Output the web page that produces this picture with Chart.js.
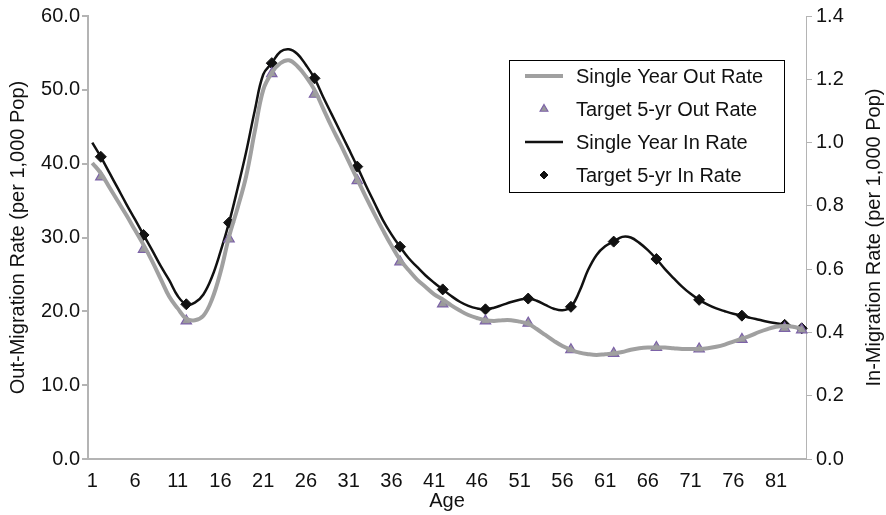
<!DOCTYPE html>
<html>
<head>
<meta charset="utf-8">
<title>Migration rates by age</title>
<script src="https://cdn.jsdelivr.net/npm/chart.js@4.4.1/dist/chart.umd.min.js"></script>
<style>
  html, body { margin: 0; padding: 0; background: #fff; }
  #wrap { width: 886px; height: 515px; }
</style>
</head>
<body>
<div id="wrap"><canvas id="rateCanvas" width="886" height="515"></canvas></div>
<script>
// single years of age on the category axis
const ages = [
  1, 2, 3, 4, 5, 6, 7, 8, 9, 10, 11, 12, 13, 14, 15, 16, 17, 18, 19, 20,
  21, 22, 23, 24, 25, 26, 27, 28, 29, 30, 31, 32, 33, 34, 35, 36, 37, 38, 39, 40,
  41, 42, 43, 44, 45, 46, 47, 48, 49, 50, 51, 52, 53, 54, 55, 56, 57, 58, 59, 60,
  61, 62, 63, 64, 65, 66, 67, 68, 69, 70, 71, 72, 73, 74, 75, 76, 77, 78, 79, 80,
  81, 82, 83, 84
];

// out-migration per 1,000 (left axis)
const singleOut = [
  40.1, 38.7, 36.8, 34.9, 33.0, 31.0, 29.0, 26.8, 24.4, 22.0,
  20.4, 19.0, 18.8, 19.4, 21.6, 25.3, 30.1, 34.0, 38.3, 44.3,
  50.0, 52.3, 53.6, 54.0, 53.2, 51.8, 50.0, 47.5, 45.0, 42.7,
  40.3, 37.9, 35.5, 33.2, 31.0, 28.9, 27.0, 25.6, 24.3, 23.3,
  22.3, 21.6, 20.8, 20.1, 19.5, 19.1, 18.8, 18.7, 18.8, 18.8,
  18.6, 18.3, 17.6, 16.8, 16.0, 15.3, 14.8, 14.4, 14.2, 14.1,
  14.2, 14.3, 14.5, 14.8, 15.0, 15.1, 15.1, 15.1, 15.0, 14.9,
  14.9, 14.9, 15.0, 15.2, 15.5, 15.9, 16.3, 16.7, 17.2, 17.6,
  17.9, 18.0, 17.9, 17.6
];

// in-migration per 1,000 (right axis)
const singleIn = [
  1.000, 0.955, 0.905, 0.855, 0.805, 0.757, 0.708, 0.660, 0.610, 0.565,
  0.515, 0.489, 0.494, 0.520, 0.575, 0.655, 0.747, 0.855, 0.970, 1.100,
  1.215, 1.251, 1.287, 1.295, 1.280, 1.245, 1.203, 1.145, 1.090, 1.035,
  0.980, 0.924, 0.865, 0.810, 0.755, 0.710, 0.671, 0.635, 0.607, 0.580,
  0.557, 0.536, 0.515, 0.497, 0.484, 0.476, 0.473, 0.478, 0.487, 0.496,
  0.503, 0.507, 0.500, 0.487, 0.475, 0.470, 0.481, 0.530, 0.597, 0.645,
  0.672, 0.687, 0.702, 0.700, 0.683, 0.660, 0.632, 0.600, 0.572, 0.545,
  0.522, 0.503, 0.488, 0.476, 0.467, 0.459, 0.453, 0.446, 0.440, 0.434,
  0.429, 0.424, 0.418, 0.413
];

// 5-year targets, placed at the group's age
const targetAges = [2, 7, 12, 17, 22, 27, 32, 37, 42, 47, 52, 57, 62, 67, 72, 77, 82, 84];
const targetOut = [38.2, 28.4, 18.7, 29.8, 52.2, 49.4, 37.7, 26.7, 21.0, 18.7, 18.4, 14.8, 14.3, 15.1, 14.9, 16.2, 17.7, 17.5];
const targetIn = [0.955, 0.708, 0.489, 0.747, 1.251, 1.203, 0.924, 0.671, 0.536, 0.473, 0.507, 0.481, 0.687, 0.632, 0.503, 0.453, 0.424, 0.413];

const FONT = "'Liberation Sans', Arial, Helvetica, sans-serif";
const AXIS_GREY = "#b4b4b4";
const RIGHT_TITLE = "In-Migration Rate (per 1,000 Pop)";

// spread the target values over the age categories (null where there is no target)
const onAges = (vals) => ages.map((a) => {
  const k = targetAges.indexOf(a);
  return k < 0 ? null : vals[k];
});

// legend drawn as a boxed panel inside the plot area,
// plus the right-hand axis title reading bottom to top
const boxLegend = {
  id: "boxLegend",
  afterDraw(chart) {
    const ctx = chart.ctx;
    const x0 = 509, y0 = 60, w = 275, h = 132;
    ctx.save();
    ctx.fillStyle = "#fff";
    ctx.fillRect(x0, y0, w, h);
    ctx.strokeStyle = "#000";
    ctx.lineWidth = 1;
    ctx.strokeRect(x0 + 0.5, y0 + 0.5, w, h);
    ctx.font = "20px " + FONT;
    ctx.textBaseline = "middle";
    chart.data.datasets.forEach((ds, i) => {
      const y = y0 + 16 + i * 33;
      if (ds.showLine === false) {
        ctx.fillStyle = ds.backgroundColor;
        ctx.strokeStyle = ds.borderColor;
        ctx.lineWidth = ds.borderWidth;
        Chart.helpers.drawPoint(ctx, {
          pointStyle: ds.pointStyle,
          radius: ds.pointRadius - 1.5,
          borderWidth: ds.borderWidth
        }, 544, y);
      } else {
        ctx.strokeStyle = ds.borderColor;
        ctx.lineWidth = ds.borderWidth;
        ctx.beginPath();
        ctx.moveTo(525, y);
        ctx.lineTo(563, y);
        ctx.stroke();
      }
      ctx.fillStyle = "#111";
      ctx.fillText(ds.label, 576, y + 1);
    });

    const area = chart.chartArea;
    ctx.translate(874, (area.top + area.bottom) / 2);
    ctx.rotate(-Math.PI / 2);
    ctx.textAlign = "center";
    ctx.fillText(RIGHT_TITLE, 0, 0);
    ctx.restore();
  }
};

const initChart = () => {
  const canvas = document.getElementById("rateCanvas");
  return new Chart(canvas, {
    type: "line",
    data: {
      labels: ages,
      datasets: [
        {
          label: "Single Year Out Rate",
          data: singleOut,
          yAxisID: "yOut",
          borderColor: "#a0a0a0",
          borderWidth: 4,
          pointRadius: 0,
          tension: 0.4
        },
        {
          label: "Target 5-yr Out Rate",
          data: onAges(targetOut),
          yAxisID: "yOut",
          showLine: false,
          pointStyle: "triangle",
          pointRadius: 6,
          backgroundColor: "#9a9a9a",
          borderColor: "#7d63a8",
          borderWidth: 1.2
        },
        {
          label: "Single Year In Rate",
          data: singleIn,
          yAxisID: "yIn",
          borderColor: "#111",
          borderWidth: 2.5,
          pointRadius: 0,
          tension: 0.4
        },
        {
          label: "Target 5-yr In Rate",
          data: onAges(targetIn),
          yAxisID: "yIn",
          showLine: false,
          pointStyle: "rectRot",
          pointRadius: 5.5,
          backgroundColor: "#111",
          borderColor: "#111",
          borderWidth: 1
        }
      ]
    },
    options: {
      responsive: false,
      animation: false,
      devicePixelRatio: 1,
      layout: { padding: { top: 16, left: 0, right: 0, bottom: 0 } },
      plugins: {
        legend: { display: false },
        tooltip: { enabled: false }
      },
      scales: {
        x: {
          type: "category",
          offset: true,
          grid: { display: false },
          border: { display: true, color: AXIS_GREY, width: 2 },
          ticks: {
            autoSkip: false,
            maxRotation: 0,
            padding: 2,
            color: "#111",
            font: { family: FONT, size: 20 },
            callback: (v, i) => (i % 5 === 0 ? ages[i] : "")
          },
          title: {
            display: true,
            text: "Age",
            color: "#111",
            font: { family: FONT, size: 20 },
            padding: { top: 0, bottom: 2 }
          },
          afterFit: (s) => { s.height = 56; }
        },
        yOut: {
          position: "left",
          min: 0,
          max: 60,
          grid: { drawOnChartArea: false, tickLength: 6, color: AXIS_GREY, lineWidth: 2 },
          border: { display: true, color: AXIS_GREY, width: 2 },
          ticks: {
            stepSize: 10,
            padding: 2,
            color: "#111",
            font: { family: FONT, size: 20 },
            callback: (v) => v.toFixed(1)
          },
          title: {
            display: true,
            text: "Out-Migration Rate (per 1,000 Pop)",
            color: "#111",
            font: { family: FONT, size: 20 },
            padding: { top: 6, bottom: 0 }
          },
          afterFit: (s) => { s.width = 88; }
        },
        yIn: {
          position: "right",
          min: 0,
          max: 1.4,
          grid: { drawOnChartArea: false, tickLength: 6, color: AXIS_GREY, lineWidth: 1 },
          border: { display: true, color: AXIS_GREY, width: 1 },
          ticks: {
            stepSize: 0.2,
            padding: 4,
            color: "#111",
            font: { family: FONT, size: 20 },
            callback: (v) => v.toFixed(1)
          },
          afterFit: (s) => { s.width = 80; }
        }
      }
    },
    plugins: [boxLegend]
  });
};

document.addEventListener("DOMContentLoaded", () => {
  initChart();
});
</script>
</body>
</html>
